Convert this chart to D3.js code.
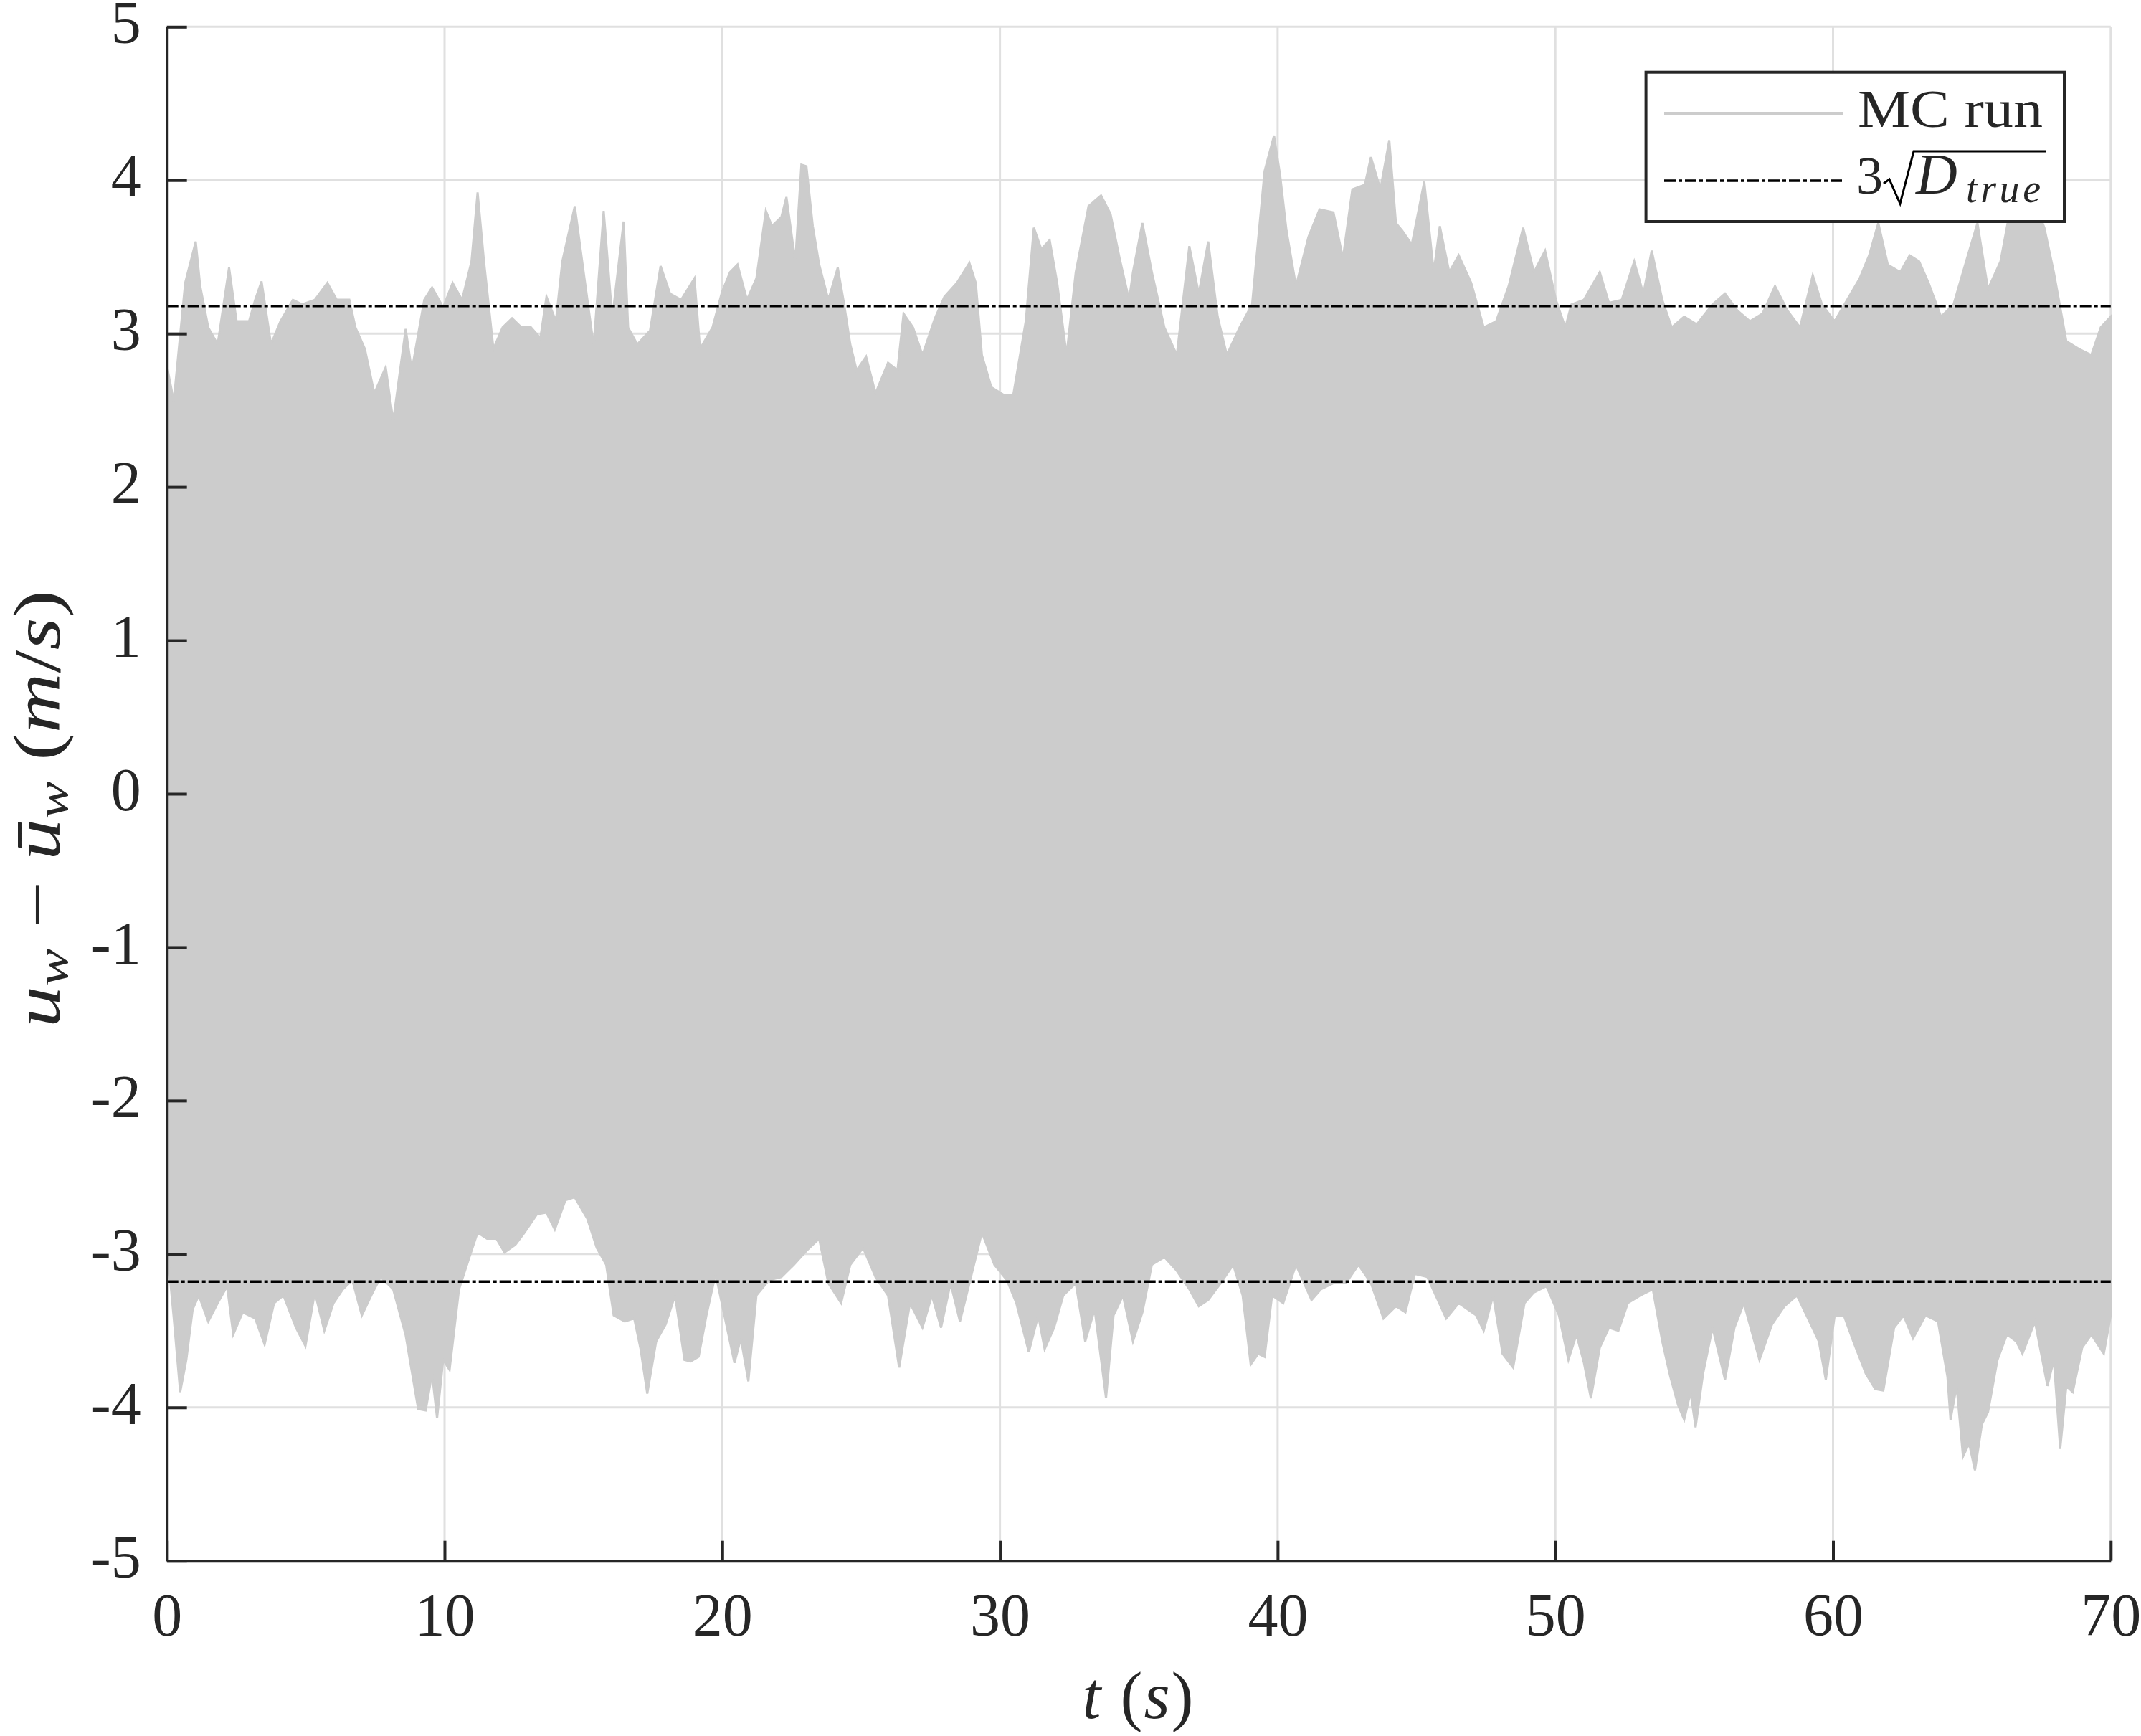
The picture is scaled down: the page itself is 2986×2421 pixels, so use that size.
<!DOCTYPE html>
<html>
<head>
<meta charset="utf-8">
<script src="https://cdn.jsdelivr.net/npm/d3@7"></script>
<style>
  html, body { margin: 0; padding: 0; background: #ffffff; }
  svg { display: block; }
  text { font-family: "Liberation Serif", "Times New Roman", serif; fill: #262626; }
</style>
</head>
<body>
<svg id="chart" width="2986" height="2421"></svg>
<script>
// ---------------- data ----------------
const xTicks = [0, 10, 20, 30, 40, 50, 60, 70];
const yTicks = [-5, -4, -3, -2, -1, 0, 1, 2, 3, 4, 5];
const yTickLabels = ["-5", "-4", "-3", "-2", "-1", "0", "1", "2", "3", "4", "5"];

// upper envelope of all MC runs (time s, value m/s)
const upperT = [0,0.25,0.66,1.04,1.20,1.49,1.83,2.24,2.51,2.96,3.18,3.41,3.75,4.09,4.54,4.88,5.33,5.78,6.12,6.57,6.79,7.13,7.47,7.88,8.15,8.60,8.82,9.27,9.55,9.95,10.29,10.63,10.97,11.19,11.42,11.76,12.09,12.43,12.77,13.11,13.45,13.67,14.01,14.24,14.69,15.03,15.37,15.73,16.04,16.45,16.61,16.94,17.40,17.78,18.12,18.52,19.00,19.20,19.65,19.99,20.28,20.55,20.89,21.23,21.57,21.79,22.13,22.31,22.63,22.85,23.03,23.26,23.49,23.82,24.16,24.39,24.61,24.84,25.18,25.52,25.97,26.31,26.53,26.87,27.21,27.66,28.00,28.45,28.90,29.13,29.35,29.69,30.14,30.48,30.93,31.22,31.49,31.79,32.06,32.40,32.73,33.19,33.64,33.98,34.31,34.65,
  34.79,35.13,35.47,35.92,36.37,36.82,37.16,37.50,37.84,38.17,38.63,39.08,39.53,39.87,40.09,40.32,40.66,41.11,41.51,42.01,42.35,42.69,43.14,43.36,43.70,44.02,44.26,44.49,44.83,45.28,45.62,45.84,46.18,46.52,46.97,47.42,47.87,48.32,48.84,49.23,49.63,50.02,50.36,50.58,51.03,51.60,51.93,52.39,52.84,53.17,53.47,53.85,54.19,54.64,55.09,55.66,56.11,56.56,57.01,57.46,57.91,58.36,58.81,59.27,59.60,60.06,60.51,60.96,61.30,61.63,61.97,62.42,62.76,63.10,63.44,63.89,64.34,64.79,65.20,65.58,66.03,66.37,66.82,67.27,67.61,67.95,68.40,68.85,69.30,69.64,70.00];
const upperV = [2.79,2.56,3.33,3.60,3.31,3.04,2.93,3.43,3.08,3.08,3.22,3.34,2.93,3.08,3.22,3.19,3.22,3.33,3.22,3.22,3.04,2.90,2.61,2.78,2.43,3.03,2.76,3.22,3.30,3.17,3.33,3.22,3.47,3.92,3.47,2.90,3.04,3.10,3.04,3.04,2.97,3.24,3.08,3.47,3.83,3.37,2.92,3.80,3.10,3.73,3.04,2.93,3.02,3.44,3.26,3.22,3.36,2.90,3.04,3.27,3.40,3.45,3.22,3.36,3.80,3.70,3.76,3.89,3.47,4.10,4.09,3.70,3.45,3.22,3.43,3.19,2.93,2.76,2.85,2.61,2.81,2.76,3.13,3.04,2.86,3.10,3.24,3.33,3.46,3.33,2.86,2.65,2.60,2.60,3.08,3.69,3.55,3.61,3.33,2.86,3.40,3.83,3.90,3.78,3.49,3.22,
  3.40,3.72,3.40,3.04,2.86,3.57,3.26,3.60,3.11,2.86,3.04,3.19,4.06,4.29,4.03,3.67,3.31,3.63,3.81,3.79,3.49,3.94,3.97,4.15,3.94,4.26,3.72,3.67,3.58,3.99,3.40,3.70,3.40,3.51,3.33,3.04,3.08,3.31,3.69,3.40,3.54,3.22,3.04,3.19,3.22,3.40,3.20,3.22,3.47,3.26,3.54,3.22,3.04,3.11,3.06,3.19,3.26,3.15,3.08,3.13,3.31,3.15,3.04,3.38,3.19,3.08,3.22,3.36,3.51,3.72,3.45,3.40,3.51,3.47,3.33,3.11,3.19,3.47,3.72,3.29,3.47,3.80,3.85,3.85,3.69,3.40,2.95,2.90,2.86,3.04,3.11];

// lower envelope of all MC runs
const lowerT = [0,0.25,0.48,0.70,0.93,1.15,1.49,1.83,2.17,2.39,2.73,3.18,3.52,3.86,4.20,4.65,4.99,5.33,5.67,6.00,6.34,6.68,7.02,7.36,7.70,8.15,8.60,9.05,9.32,9.55,9.73,9.95,10.18,10.52,10.85,11.19,11.53,11.87,12.16,12.55,12.88,13.33,13.67,13.97,14.35,14.69,15.14,15.48,15.82,16.09,16.49,16.83,17.06,17.30,17.62,17.96,18.30,18.64,18.86,19.15,19.43,19.76,20.10,20.44,20.67,20.94,21.23,21.68,22.13,22.58,23.03,23.49,23.82,24.28,24.61,25.07,25.52,25.97,26.37,26.76,27.21,27.55,27.88,28.22,28.56,29.01,29.35,29.80,30.25,30.59,31.04,31.38,31.61,31.95,32.28,32.73,33.07,33.41,33.82,34.09,34.43,
  34.79,35.13,35.47,35.92,36.37,36.82,37.16,37.50,37.95,38.40,38.74,39.03,39.30,39.53,39.80,40.20,40.66,41.22,41.56,42.01,42.46,42.91,43.36,43.81,44.26,44.60,44.94,45.39,46.07,46.52,47.15,47.42,47.76,48.10,48.48,48.89,49.23,49.68,50.13,50.47,50.76,51.03,51.28,51.60,51.93,52.27,52.61,53.06,53.51,53.85,54.14,54.42,54.64,54.87,55.05,55.32,55.66,56.11,56.45,56.79,57.35,57.80,58.25,58.70,59.15,59.49,59.74,60.06,60.39,60.73,61.18,61.52,61.81,62.20,62.54,62.88,63.33,63.78,64.12,64.23,64.45,64.68,64.90,65.11,65.36,65.58,65.92,66.26,66.60,66.82,67.27,67.72,67.95,68.18,68.40,68.63,68.97,69.30,69.75,70.00];
const lowerV = [-2.94,-3.42,-3.90,-3.69,-3.36,-3.27,-3.44,-3.32,-3.21,-3.525,-3.38,-3.42,-3.59,-3.32,-3.27,-3.48,-3.60,-3.25,-3.50,-3.32,-3.23,-3.17,-3.40,-3.27,-3.15,-3.23,-3.53,-4.01,-4.02,-3.78,-4.07,-3.69,-3.755,-3.23,-3.045,-2.86,-2.90,-2.90,-2.99,-2.94,-2.86,-2.74,-2.73,-2.84,-2.65,-2.63,-2.77,-2.96,-3.07,-3.40,-3.44,-3.42,-3.62,-3.91,-3.57,-3.46,-3.27,-3.69,-3.70,-3.67,-3.40,-3.13,-3.42,-3.71,-3.55,-3.83,-3.27,-3.17,-3.15,-3.07,-2.98,-2.90,-3.19,-3.32,-3.07,-2.96,-3.15,-3.27,-3.74,-3.32,-3.48,-3.27,-3.48,-3.19,-3.44,-3.11,-2.86,-3.07,-3.17,-3.32,-3.64,-3.40,-3.62,-3.48,-3.27,-3.19,-3.57,-3.36,-3.94,-3.40,-3.27,
  -3.57,-3.38,-3.07,-3.02,-3.11,-3.23,-3.34,-3.30,-3.19,-3.07,-3.27,-3.72,-3.65,-3.67,-3.27,-3.32,-3.07,-3.30,-3.23,-3.19,-3.19,-3.07,-3.19,-3.42,-3.34,-3.38,-3.13,-3.15,-3.42,-3.32,-3.40,-3.50,-3.27,-3.65,-3.74,-3.32,-3.25,-3.21,-3.40,-3.69,-3.525,-3.71,-3.94,-3.61,-3.48,-3.50,-3.32,-3.27,-3.23,-3.57,-3.80,-3.985,-4.08,-3.90,-4.13,-3.78,-3.48,-3.82,-3.48,-3.32,-3.69,-3.46,-3.34,-3.27,-3.44,-3.57,-3.82,-3.40,-3.40,-3.57,-3.78,-3.88,-3.89,-3.48,-3.40,-3.55,-3.40,-3.44,-3.80,-4.08,-3.86,-4.32,-4.235,-4.41,-4.11,-4.03,-3.69,-3.525,-3.57,-3.65,-3.44,-3.86,-3.69,-4.27,-3.86,-3.90,-3.61,-3.525,-3.65,-3.40];

// 3*sqrt(D_true) bounds
const boundT = [0, 70];
const boundUpper = [3.18, 3.18];
const boundLower = [-3.18, -3.18];

const legendLabels = ["MC run", "3", "D", "true"];

// ---------------- drawing ----------------
const svg = d3.select("#chart");
svg.append("rect").attr("width", 2986).attr("height", 2421).attr("fill", "#ffffff");

const x = d3.scaleLinear().domain([0, 70]).range([232.7, 2943.8]);
const y = d3.scaleLinear().domain([-5, 5]).range([2176.7, 37.3]);

const AX = "#262626", GRID = "#e0e0e0", RUN = "#cccccc";

// grid
const grid = svg.append("g");
grid.selectAll("line.gx").data(xTicks).join("line")
  .attr("x1", d => x(d)).attr("x2", d => x(d))
  .attr("y1", y(-5)).attr("y2", y(5))
  .attr("stroke", GRID).attr("stroke-width", 3);
grid.selectAll("line.gy").data(yTicks).join("line")
  .attr("x1", x(0)).attr("x2", x(70))
  .attr("y1", d => y(d)).attr("y2", d => y(d))
  .attr("stroke", GRID).attr("stroke-width", 3);

// MC runs band: upper envelope left->right, lower envelope right->left
const upperPts = upperT.map((t, i) => [t, upperV[i]]);
const lowerPts = lowerT.map((t, i) => [t, lowerV[i]]).reverse();
const bandLine = d3.line().x(d => x(d[0])).y(d => y(d[1]));
svg.append("path")
  .attr("d", bandLine(upperPts.concat(lowerPts)) + "Z")
  .attr("fill", RUN).attr("stroke", RUN).attr("stroke-width", 3)
  .attr("stroke-linejoin", "miter");

// 3 sigma lines
const bLine = d3.line().x(d => x(d[0])).y(d => y(d[1]));
[boundUpper, boundLower].forEach(arr => {
  svg.append("path")
    .attr("d", bLine(boundT.map((t, i) => [t, arr[i]])))
    .attr("fill", "none").attr("stroke", "#000000").attr("stroke-width", 3.5)
    .attr("stroke-dasharray", "16,4,5,4");
});

// axes
const fontTick = 84;
const yAxis = d3.axisLeft(y).tickValues(yTicks)
  .tickFormat((d, i) => yTickLabels[i]).tickSize(-28).tickSizeOuter(0).tickPadding(36);
const gy = svg.append("g").attr("transform", `translate(${x(0)},0)`).call(yAxis);
gy.attr("font-family", null).attr("font-size", null);
gy.select(".domain").attr("stroke", AX).attr("stroke-width", 4);
gy.selectAll(".tick line").attr("stroke", AX).attr("stroke-width", 4);
gy.selectAll(".tick text").attr("font-size", fontTick).attr("dy", "0.27em")
  .attr("fill", AX);

const xAxis = d3.axisBottom(x).tickValues(xTicks).tickFormat(d => String(d))
  .tickSize(-28).tickSizeOuter(0);
const gx = svg.append("g").attr("transform", `translate(0,${y(-5)})`).call(xAxis);
gx.attr("font-family", null).attr("font-size", null);
gx.select(".domain").attr("stroke", AX).attr("stroke-width", 4);
gx.selectAll(".tick line").attr("stroke", AX).attr("stroke-width", 4);
gx.selectAll(".tick text").attr("font-size", fontTick).attr("y", 104).attr("dy", 0)
  .attr("fill", AX);

// axis labels
const xl = svg.append("text").attr("x", 1587).attr("y", 2396)
  .attr("text-anchor", "middle").attr("font-size", 93)
  .attr("textLength", 155).attr("lengthAdjust", "spacing");
xl.append("tspan").attr("font-style", "italic").text("t");
xl.append("tspan").text(" (");
xl.append("tspan").attr("font-style", "italic").text("s");
xl.append("tspan").text(")");

const yl = svg.append("text").attr("transform", "translate(83,1128) rotate(-90)")
  .attr("text-anchor", "middle").attr("font-size", 93)
  .attr("textLength", 610).attr("lengthAdjust", "spacingAndGlyphs");
yl.append("tspan").attr("font-style", "italic").text("u");
yl.append("tspan").attr("font-style", "italic").attr("font-size", 63).attr("dy", 11).text("w");
yl.append("tspan").attr("dy", -11).text(" \u2212 ");
yl.append("tspan").attr("font-style", "italic").text("\u016B");
yl.append("tspan").attr("font-style", "italic").attr("font-size", 63).attr("dy", 11).text("w");
yl.append("tspan").attr("dy", -11).text(" (");
yl.append("tspan").attr("font-style", "italic").text("m");
yl.append("tspan").text("/");
yl.append("tspan").attr("font-style", "italic").text("s");
yl.append("tspan").text(")");

// legend
const lg = svg.append("g");
lg.append("rect").attr("x", 2295.6).attr("y", 100.7).attr("width", 583.4).attr("height", 208.3)
  .attr("fill", "#ffffff").attr("stroke", AX).attr("stroke-width", 4);
lg.append("line").attr("x1", 2321).attr("x2", 2570).attr("y1", 158).attr("y2", 158)
  .attr("stroke", RUN).attr("stroke-width", 4);
lg.append("line").attr("x1", 2321).attr("x2", 2570).attr("y1", 252).attr("y2", 252)
  .attr("stroke", "#000000").attr("stroke-width", 3.5).attr("stroke-dasharray", "16,4,5,4");
lg.append("text").attr("x", 2591).attr("y", 177).attr("font-size", 74)
  .attr("fill", "#000000").attr("textLength", 258).attr("lengthAdjust", "spacingAndGlyphs")
  .text(legendLabels[0]);
// 3 sqrt(D_true)
lg.append("text").attr("x", 2589).attr("y", 270).attr("font-size", 74).attr("fill", "#000000").text(legendLabels[1]);
lg.append("path").attr("d", "M2627,256 L2635,250 L2650,284 L2669,211 L2853,211")
  .attr("fill", "none").attr("stroke", "#000000").attr("stroke-width", 3);
lg.append("text").attr("x", 2672).attr("y", 270).attr("font-size", 80).attr("font-style", "italic")
  .attr("fill", "#000000").text(legendLabels[2]);
lg.append("text").attr("x", 2742).attr("y", 282).attr("font-size", 56).attr("font-style", "italic")
  .attr("fill", "#000000").attr("textLength", 104).attr("lengthAdjust", "spacing").text(legendLabels[3]);
</script>
</body>
</html>
